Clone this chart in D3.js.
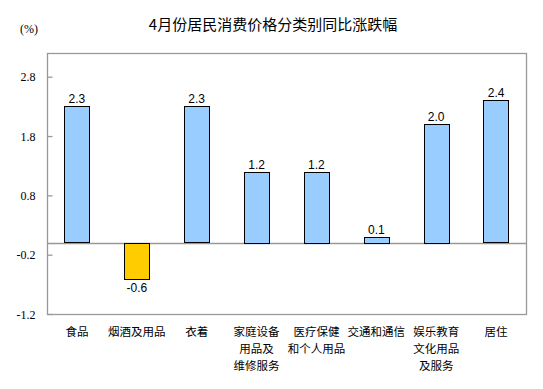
<!DOCTYPE html>
<html><head><meta charset="utf-8">
<script src="https://cdn.jsdelivr.net/npm/d3@7"></script>
<style>body{margin:0;background:#fff}svg{display:block}</style>
</head><body>
<script>
const categories = [["食品"],["烟酒及用品"],["衣着"],["家庭设备","用品及","维修服务"],["医疗保健","和个人用品"],["交通和通信"],["娱乐教育","文化用品","及服务"],["居住"]];
const values = [2.3,-0.6,2.3,1.2,1.2,0.1,2.0,2.4];
const yTicks = [-1.2,-0.2,0.8,1.8,2.8];
const yDomain = [-1.2,3.2];
const title = "4月份居民消费价格分类别同比涨跌幅";
const unit = "(%)";

const W=543,H=389;
const svg=d3.select("body").append("svg").attr("width",W).attr("height",H);
const L=47,R=526,T=53,B=314;
const x=d3.scaleBand().domain(d3.range(values.length)).range([L,R]).paddingInner(0.58).paddingOuter(0.29);
const y=d3.scaleLinear().domain(yDomain).range([B,T]);
const fmt=d=>d.toFixed(1);

svg.append("text").attr("x",273).attr("y",30).attr("text-anchor","middle")
 .style("font-family","'Noto Sans CJK SC'").style("font-size","15px").attr("fill","#000").text(title);
svg.append("text").attr("x",29).attr("y",33).attr("text-anchor","middle")
 .style("font-family","'Liberation Serif'").style("font-size","12px").attr("fill","#000").text(unit);

// frame
svg.append("rect").attr("x",L+0.5).attr("y",T+0.5).attr("width",R-L).attr("height",B-T)
 .attr("fill","none").attr("stroke","#999").attr("stroke-width",1.3);

const yAxis=d3.axisRight(y).tickValues(yTicks).tickSize(5).tickFormat(fmt);
const ga=svg.append("g").attr("transform",`translate(${L+0.5},0)`).call(yAxis);
ga.select(".domain").remove();
ga.selectAll(".tick line").attr("stroke","#999").attr("stroke-width",1.3);
ga.selectAll(".tick text").attr("x",-12).attr("text-anchor","end").attr("dy","0.35em")
 .style("font-family","'Liberation Serif'").style("font-size","12px").attr("fill","#000");

// zero line
svg.append("line").attr("x1",L).attr("x2",R).attr("y1",Math.round(y(0))+0.5).attr("y2",Math.round(y(0))+0.5)
 .attr("stroke","#999").attr("stroke-width",1.3);

svg.selectAll("rect.bar").data(values).enter().append("rect").attr("class","bar")
 .attr("x",(d,i)=>Math.round(x(i))+0.5).attr("width",Math.round(x.bandwidth()))
 .attr("y",d=>Math.round(y(Math.max(0,d)))+0.5)
 .attr("height",d=>Math.round(Math.abs(y(d)-y(0))))
 .attr("fill",d=>d<0?"#FFCC00":"#99CCFF").attr("stroke","#000").attr("stroke-width",1);

svg.selectAll("text.val").data(values).enter().append("text").attr("class","val")
 .attr("x",(d,i)=>x(i)+x.bandwidth()/2)
 .attr("y",d=>d>=0?y(d)-3:y(d)+14)
 .attr("text-anchor","middle").style("font-family","'Liberation Sans'").style("font-size","12px").attr("fill","#000")
 .text(fmt);

const catLines=[];
categories.forEach((lines,i)=>lines.forEach((s,j)=>catLines.push({i,j,s})));
svg.selectAll("text.cat").data(catLines).enter().append("text").attr("class","cat")
 .attr("text-anchor","middle").style("font-family","'Noto Sans CJK SC'").style("font-size","11.5px")
 .attr("fill","#000")
 .attr("x",d=>x(d.i)+x.bandwidth()/2).attr("y",d=>336+d.j*16.8).text(d=>d.s);
</script>
</body></html>
